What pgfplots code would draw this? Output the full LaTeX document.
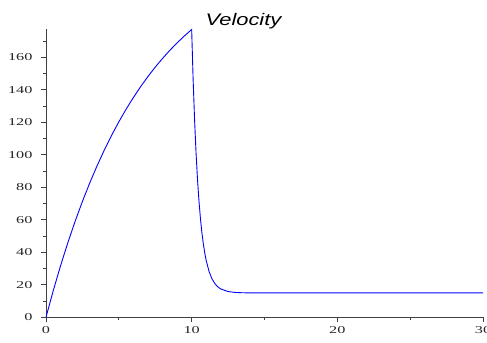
\documentclass[border=0pt]{standalone}
\usepackage{fontspec}
\usepackage{pgfplots}
\pgfplotsset{compat=1.18}
\newfontfamily\tickfont[FakeStretch=1.55]{Liberation Serif}
\newfontfamily\titlefont[FakeStretch=1.3]{Liberation Sans}
\begin{document}
\begin{tikzpicture}
\begin{axis}[
  at={(46bp,25.7bp)}, anchor=south west,
  scale only axis,
  width=437bp, height=287.8bp,
  xmin=0, xmax=30, ymin=0, ymax=177.13,
  axis x line=bottom, axis y line=left,
  axis line style={-, black!75, line width=0.9bp},
  xtick={0,10,20,30}, minor xtick={5,15,25},
  ytick={0,20,...,160}, minor ytick={10,30,...,170},
  tick align=outside,
  major tick length=5bp, minor tick length=3bp,
  tick style={black!75, line width=0.8bp},
  /pgf/number format/assume math mode=true,
  tick label style={font=\tickfont\fontsize{10.5bp}{12bp}\selectfont, text=black!85},
  yticklabel style={xshift=-5bp},
  xticklabel style={yshift=-1bp},
  clip=false,
]
\addplot[blue, line width=0.9bp] coordinates {
(0,0) (0.5,16.48) (1,31.76) (1.5,45.94) (2,59.09) (2.5,71.30) (3,82.62)
(3.5,93.12) (4,102.87) (4.5,111.91) (5,120.30) (5.5,128.08) (6,135.30)
(6.5,142.00) (7,148.21) (7.5,153.98) (8,159.33) (8.5,164.29) (9,168.89)
(9.5,173.16) (10,177.13)
(10.1,146.42) (10.2,121.53) (10.3,101.35) (10.4,84.99) (10.5,71.74)
(10.6,60.99) (10.7,52.28) (10.8,45.22) (10.9,39.49) (11,34.85)
(11.2,28.04) (11.4,23.57) (11.6,20.63) (11.8,18.70) (12,17.43)
(12.5,15.85) (13,15.30) (13.5,15.10) (14,15.04) (15,15.00) (20,15.00) (25,15.00) (30,15.00)
};
\end{axis}
\node[anchor=base, font=\titlefont\itshape\fontsize{16.8bp}{19bp}\selectfont] at (243.5bp,317bp) {Velocity};
\pgfresetboundingbox
\path[use as bounding box] (0,0) rectangle (487bp,343bp);
\end{tikzpicture}
\end{document}
